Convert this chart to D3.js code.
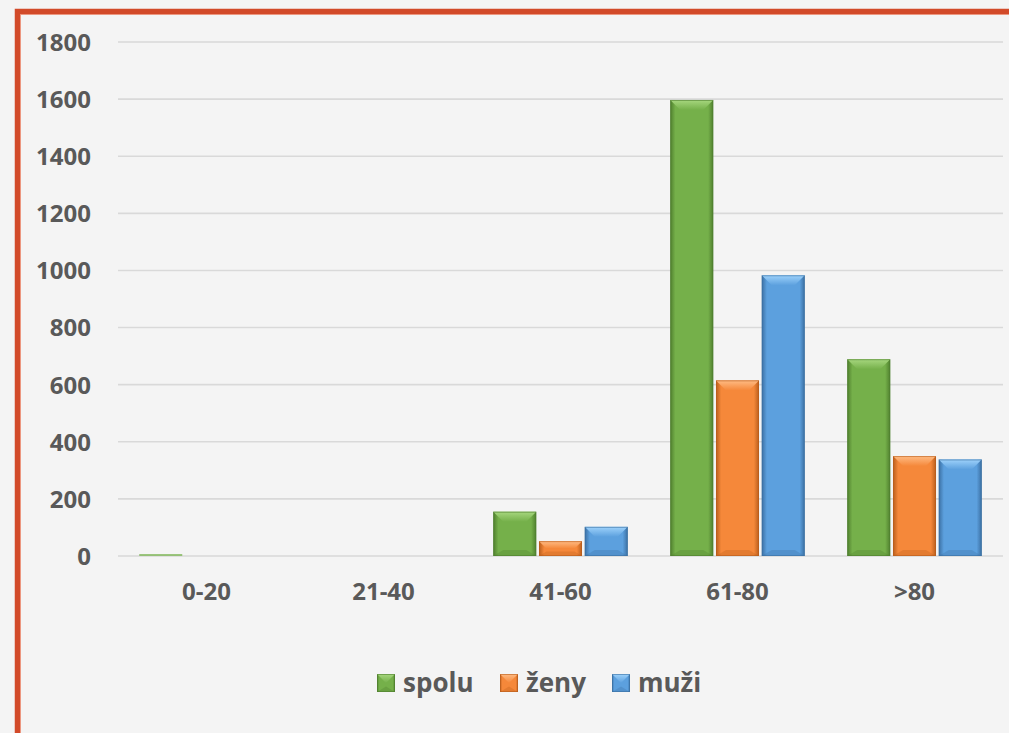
<!DOCTYPE html>
<html>
<head>
<meta charset="utf-8">
<script src="https://cdn.jsdelivr.net/npm/d3@7"></script>
<style>
  html, body { margin: 0; padding: 0; background: #f4f4f4; }
  svg { display: block; }
  .tick text { font-family: "Open Sans", sans-serif; font-weight: 700; fill: #595959; }
</style>
</head>
<body>
<div id="chart"></div>
<script>
var categories = ["0-20", "21-40", "41-60", "61-80", ">80"],
    seriesNames = ["spolu", "ženy", "muži"],
    spolu = [3, 0, 155, 1597, 689],
    zeny = [0, 0, 52, 615, 350],
    muzi = [0, 0, 102, 983, 338],
    yTicks = [0, 200, 400, 600, 800, 1000, 1200, 1400, 1600, 1800];

var colors = ["#75b04a", "#f5883a", "#5ca0de"],
    darks = ["#4f7f2e", "#b85d1c", "#3b6fa2"],
    lights = ["#a7d77f", "#ffbc85", "#9ed2fb"];

var W = 1009, H = 733,
    margin = { top: 42, right: 6, bottom: 177, left: 118 },
    width = W - margin.left - margin.right;

var rows = categories.map(function(c, i) {
  return { cat: c, vals: [spolu[i], zeny[i], muzi[i]] };
});

var svg = d3.select("#chart").append("svg")
    .attr("width", W)
    .attr("height", H);

svg.append("rect").attr("width", W).attr("height", H).attr("fill", "#f4f4f4");

// red frame (runs off the right and bottom edges)
svg.append("rect")
    .attr("x", 17.5).attr("y", 11.5)
    .attr("width", 1100).attr("height", 900)
    .attr("fill", "none")
    .attr("stroke", "#d24a29")
    .attr("stroke-width", 5.5);
svg.append("rect")
    .attr("x", 20.6).attr("y", 14.6)
    .attr("width", 1100).attr("height", 900)
    .attr("fill", "none")
    .attr("stroke", "#ec8a70")
    .attr("stroke-width", 0.8);

var g = svg.append("g")
    .attr("transform", "translate(" + margin.left + "," + margin.top + ")");

var x0 = d3.scaleBand().domain(categories).range([0, width])
    .paddingInner(0.24).paddingOuter(0.12);
var x1 = d3.scaleBand().domain(d3.range(3)).range([0, x0.bandwidth()])
    .paddingInner(0.06);
var y = d3.scaleLinear().domain([0, 1800]).range([514, 0]);

// gridlines
g.append("g").selectAll("line")
    .data(yTicks)
    .enter().append("line")
    .attr("x1", 0).attr("x2", width)
    .attr("y1", function(d) { return y(d); })
    .attr("y2", function(d) { return y(d); })
    .attr("stroke", "#d9d9d9")
    .attr("stroke-width", 1.6);

// y axis labels
var yAxis = g.append("g")
    .attr("transform", "translate(-27,0)")
    .call(d3.axisLeft(y).tickValues(yTicks).tickFormat(d3.format("d")).tickSize(0).tickPadding(0));
yAxis.select(".domain").remove();
yAxis.selectAll("text").style("font-size", "24px").attr("dy", "0.35em");

// x axis labels
var xAxis = g.append("g")
    .attr("transform", "translate(0," + y(0) + ")")
    .call(d3.axisBottom(x0).tickSize(0).tickPadding(36));
xAxis.select(".domain").remove();
xAxis.selectAll("text").style("font-size", "24px").attr("dy", "0.35em");

// gradients for the bevelled bars
var defs = svg.append("defs");
colors.forEach(function(c, i) {
  var gr = defs.append("linearGradient").attr("id", "side" + i)
      .attr("x1", 0).attr("x2", 1).attr("y1", 0).attr("y2", 0);
  gr.append("stop").attr("offset", "0%").attr("stop-color", darks[i]);
  gr.append("stop").attr("offset", "12%").attr("stop-color", c);
  gr.append("stop").attr("offset", "88%").attr("stop-color", c);
  gr.append("stop").attr("offset", "100%").attr("stop-color", darks[i]);
  var tg = defs.append("linearGradient").attr("id", "top" + i)
      .attr("x1", 0).attr("x2", 0).attr("y1", 0).attr("y2", 1);
  tg.append("stop").attr("offset", "0%").attr("stop-color", lights[i]);
  tg.append("stop").attr("offset", "100%").attr("stop-color", c);
});

function drawBar(sel, x, yt, w, h, i) {
  if (h <= 0) return;
  var b = Math.min(10, h / 2, w / 2);
  sel.append("rect")
      .attr("x", x).attr("y", yt).attr("width", w).attr("height", h)
      .attr("fill", "url(#side" + i + ")");
  // bottom bevel (slightly darker)
  sel.append("path")
      .attr("d", "M" + x + "," + (yt + h) + "L" + (x + b) + "," + (yt + h - b * 0.6) +
        "L" + (x + w - b) + "," + (yt + h - b * 0.6) + "L" + (x + w) + "," + (yt + h) + "Z")
      .attr("fill", darks[i]).attr("opacity", 0.3);
  // top bevel (light)
  sel.append("path")
      .attr("d", "M" + x + "," + yt + "L" + (x + w) + "," + yt +
        "L" + (x + w - b) + "," + (yt + b) + "L" + (x + b) + "," + (yt + b) + "Z")
      .attr("fill", "url(#top" + i + ")");
  sel.append("rect")
      .attr("x", x + 0.5).attr("y", yt + 0.5)
      .attr("width", Math.max(0, w - 1)).attr("height", Math.max(0, h - 1))
      .attr("fill", "none")
      .attr("stroke", darks[i]).attr("stroke-opacity", 0.6).attr("stroke-width", 1);
}

var groups = g.append("g").selectAll("g")
    .data(rows)
    .enter().append("g")
    .attr("transform", function(d) { return "translate(" + x0(d.cat) + ",0)"; });

groups.each(function(d) {
  var sel = d3.select(this);
  d.vals.forEach(function(v, i) {
    var yt = y(v), h = y(0) - y(v);
    if (h > 0 && h < 2) {
      sel.append("rect").attr("x", x1(i)).attr("y", y(0) - 2)
        .attr("width", x1.bandwidth()).attr("height", 2)
        .attr("fill", colors[i]).attr("opacity", 0.7);
      return;
    }
    drawBar(sel, x1(i), yt, x1.bandwidth(), h, i);
  });
});

// legend
var legendX = [377, 500, 612];
var legend = svg.append("g").selectAll("g")
    .data(seriesNames)
    .enter().append("g")
    .attr("transform", function(d, i) { return "translate(" + legendX[i] + ",674)"; });

legend.each(function(d, i) {
  drawBar(d3.select(this), 0, 0, 18, 18, i);
});
legend.append("text")
    .attr("x", 26).attr("y", 9)
    .attr("dy", "0.35em")
    .style("font-family", "'Open Sans', sans-serif")
    .style("font-weight", 700)
    .style("font-size", "26px")
    .attr("fill", "#595959")
    .text(function(d) { return d; });
</script>
</body>
</html>
